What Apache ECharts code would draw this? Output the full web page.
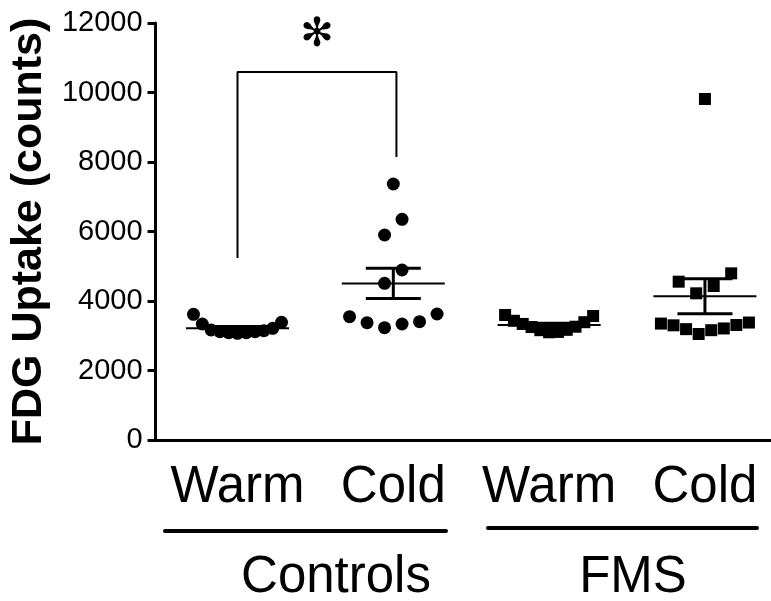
<!DOCTYPE html>
<html>
<head>
<meta charset="utf-8">
<script src="https://cdn.jsdelivr.net/npm/echarts@6/dist/echarts.min.js"></script>
<style>
  html, body { margin: 0; padding: 0; background: #fff; }
  #main { width: 771px; height: 601px; }
</style>
</head>
<body>
<div id="main"></div>
<script>
// categories along x (1..4) and the two groups under them
const categories = ['Warm', 'Cold', 'Warm', 'Cold'];
const groups = ['Controls', 'FMS'];
const yTicks = [0, 2000, 4000, 6000, 8000, 10000, 12000];

// FDG uptake (counts)
const controlsWarm = [3617, 3338, 3165, 3117, 3088, 3070, 3088, 3117, 3146, 3213, 3386];
const controlsCold = [3549, 3376, 3232, 3338, 3405, 3626, 4509, 4892, 5899, 6350, 7367];
const fmsWarm = [3597, 3430, 3340, 3250, 3170, 3110, 3100, 3160, 3260, 3390, 3568];
const fmsCold = [9813, 4796, 4432, 4556, 4221, 3300, 3190, 3350, 3050, 3160, 3380, 3210, 3310];

// significance bracket (Controls warm vs cold)
const bracketX = [1, 2.02];
const bracketTop = 10590;
const bracketEnds = [5237, 8144];

const PX_PER_STEP = 155.8; // pixels between two categories

// prism-like scatter: cluster close values, spread each cluster around the centre
function swarm(values, center) {
  const sorted = values.slice().sort((a, b) => a - b);
  const clusters = [];
  sorted.forEach(v => {
    const last = clusters[clusters.length - 1];
    if (last && v - last[last.length - 1] < 500) last.push(v);
    else clusters.push([v]);
  });
  const out = [];
  clusters.forEach(c => {
    const n = c.length;
    const step = (n > 1 ? Math.min(17.5, 88 / (n - 1)) : 0) / PX_PER_STEP;
    c.forEach((v, k) => {
      let slot;
      if (n % 2) slot = k === 0 ? 0 : (k % 2 ? 1 : -1) * Math.ceil(k / 2);
      else slot = (k % 2 ? 1 : -1) * (Math.floor(k / 2) + 0.5);
      out.push([center + slot * step, v]);
    });
  });
  return out;
}

function meanSem(vals) {
  const n = vals.length;
  const m = vals.reduce((a, b) => a + b, 0) / n;
  const sd = Math.sqrt(vals.reduce((a, b) => a + (b - m) * (b - m), 0) / (n - 1));
  return [m, sd / Math.sqrt(n)];
}

const allSets = [controlsWarm, controlsCold, fmsWarm, fmsCold];
const summary = allSets.map((vals, i) => [i + 1].concat(meanSem(vals)));

const dot = { color: '#000', opacity: 1 };

let myChart = echarts.init(document.getElementById('main'));
myChart.setOption({
  animation: false,
  backgroundColor: '#fff',
  textStyle: { fontFamily: 'Liberation Sans' },
  grid: { left: 155, right: 0, top: 23, bottom: 161 },
  xAxis: {
    type: 'value',
    min: 0.474,
    max: 4.424,
    splitLine: { show: false },
    axisTick: { show: false },
    axisLine: { show: true, onZero: false, lineStyle: { color: '#000', width: 3 } },
    axisLabel: {
      customValues: [1, 2, 3, 4],
      formatter: v => categories[Math.round(v) - 1],
      fontSize: 51,
      color: '#000',
      margin: 22
    }
  },
  yAxis: {
    type: 'value',
    min: yTicks[0],
    max: yTicks[yTicks.length - 1],
    interval: 2000,
    name: 'FDG Uptake (counts)',
    nameLocation: 'middle',
    nameGap: 97,
    nameTextStyle: { fontSize: 43, fontWeight: 'bold', color: '#000' },
    splitLine: { show: false },
    axisLine: { show: true, lineStyle: { color: '#000', width: 3 } },
    axisTick: { show: true, length: 8, lineStyle: { color: '#000', width: 3 } },
    axisLabel: { fontSize: 29, color: '#000', margin: 13, formatter: v => String(v) }
  },
  series: [
    { type: 'scatter', symbol: 'circle', symbolSize: 13, itemStyle: dot, data: swarm(controlsWarm, 1) },
    { type: 'scatter', symbol: 'circle', symbolSize: 13, itemStyle: dot, data: swarm(controlsCold, 2) },
    { type: 'scatter', symbol: 'rect', symbolSize: 12, itemStyle: dot, data: swarm(fmsWarm, 3) },
    { type: 'scatter', symbol: 'rect', symbolSize: 12, itemStyle: dot, data: swarm(fmsCold, 4) },
    {
      type: 'custom',
      data: summary,
      z: 3,
      renderItem: function (params, api) {
        const x = api.value(0), m = api.value(1), s = api.value(2);
        const c = api.coord([x, m]);
        const hi = api.coord([x, m + s])[1];
        const lo = api.coord([x, m - s])[1];
        const st = { stroke: '#000', lineWidth: 3 };
        return {
          type: 'group',
          children: [
            { type: 'line', shape: { x1: c[0] - 51.5, y1: c[1], x2: c[0] + 51.5, y2: c[1] }, style: { stroke: '#000', lineWidth: 2 } },
            { type: 'line', shape: { x1: c[0], y1: hi, x2: c[0], y2: lo }, style: st },
            { type: 'line', shape: { x1: c[0] - 27.5, y1: hi, x2: c[0] + 27.5, y2: hi }, style: st },
            { type: 'line', shape: { x1: c[0] - 27.5, y1: lo, x2: c[0] + 27.5, y2: lo }, style: st }
          ]
        };
      }
    },
    {
      type: 'line',
      symbol: 'none',
      lineStyle: { color: '#000', width: 2 },
      data: [[bracketX[0], bracketEnds[0]], [bracketX[0], bracketTop], [bracketX[1], bracketTop], [bracketX[1], bracketEnds[1]]]
    }
  ],
  graphic: [
    { type: 'text', x: 317, y: 36, style: { text: '✻', fontSize: 40, fill: '#000', align: 'center', verticalAlign: 'middle', fontFamily: 'DejaVu Sans' } },
    { type: 'line', shape: { x1: 165, y1: 531, x2: 446, y2: 531 }, style: { stroke: '#000', lineWidth: 4, lineCap: 'round' } },
    { type: 'line', shape: { x1: 488, y1: 528, x2: 757, y2: 528 }, style: { stroke: '#000', lineWidth: 4, lineCap: 'round' } },
    { type: 'text', x: 336, y: 578, style: { text: groups[0], fontSize: 51, fill: '#000', align: 'center', verticalAlign: 'middle', fontFamily: 'Liberation Sans' } },
    { type: 'text', x: 633, y: 578, style: { text: groups[1], fontSize: 51, fill: '#000', align: 'center', verticalAlign: 'middle', fontFamily: 'Liberation Sans' } }
  ]
});
</script>
</body>
</html>
